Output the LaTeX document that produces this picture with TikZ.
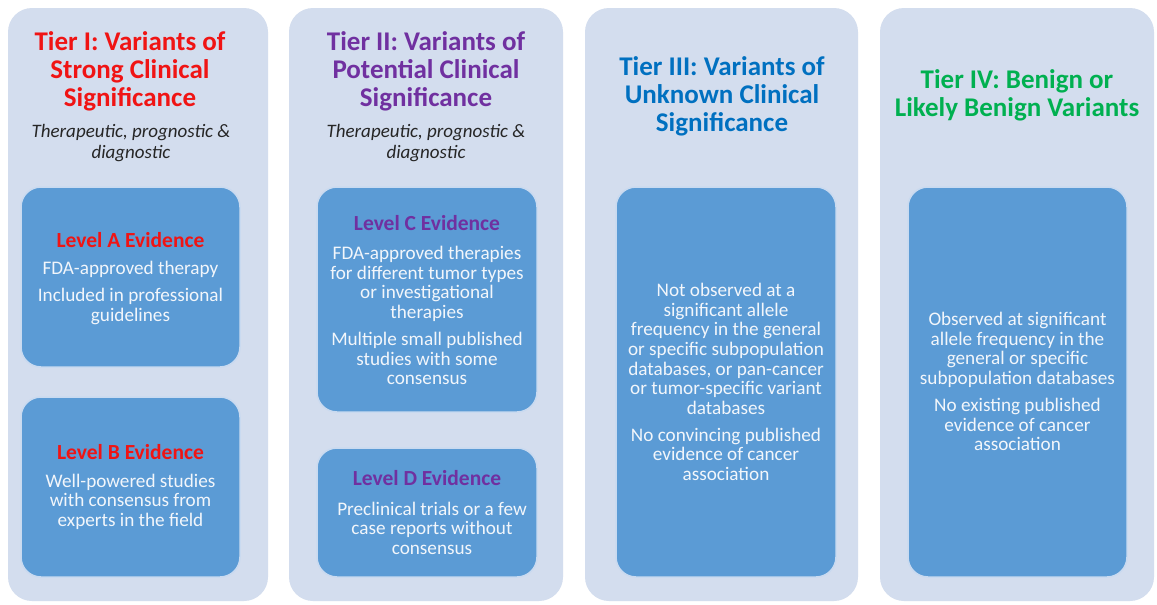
\documentclass[tikz,border=0pt]{standalone}
\usepackage{fontspec}
\setmainfont{Carlito}
\definecolor{panelfill}{HTML}{D3DDEE}
\definecolor{boxfill}{HTML}{5B9BD5}
\definecolor{boxline}{HTML}{C9DAF0}
\definecolor{tierred}{HTML}{F01414}
\definecolor{tierpurple}{HTML}{7030A0}
\definecolor{tierblue}{HTML}{0070C0}
\definecolor{tiergreen}{HTML}{00B050}
\definecolor{subgrey}{HTML}{262626}
\definecolor{boxtext}{HTML}{F2F6FB}
\tikzset{
  panel/.style={rectangle, rounded corners=24pt, fill=panelfill, inner sep=0pt},
  evbox/.style={rectangle, rounded corners=20pt, fill=boxfill, draw=boxline, line width=1.5pt, inner sep=0pt},
  tiertitle/.style={align=center, inner sep=0pt, font=\fontsize{27}{28}\selectfont\bfseries},
  subtitle/.style={align=center, inner sep=0pt, text=subgrey, font=\fontsize{19}{21}\selectfont\itshape},
  leveltitle/.style={align=center, inner sep=0pt, font=\fontsize{21.5}{22}\selectfont\bfseries},
  bodytext/.style={align=center, inner sep=0pt, text=boxtext, font=\fontsize{19.2}{19.6}\selectfont},
}
\newcommand{\parbreak}{\\[7.5pt]}
\begin{document}
\begin{tikzpicture}[x=1pt, y=-1pt]
\useasboundingbox (0,0) rectangle (1157,605);
\fill[white] (0,0) rectangle (1157,605);

% tier panels
\node[panel, minimum width=260pt, minimum height=593pt] (p1) at (138,304.5) {};
\node[panel, minimum width=274pt, minimum height=593pt] (p2) at (426,304.5) {};
\node[panel, minimum width=273pt, minimum height=593pt] (p3) at (721.5,304.5) {};
\node[panel, minimum width=274pt, minimum height=593pt] (p4) at (1017,304.5) {};

% evidence boxes
\node[evbox, minimum width=219pt, minimum height=180pt] (ba) at (130.5,277) {};
\node[evbox, minimum width=219pt, minimum height=180pt] (bb) at (130.5,487) {};
\node[evbox, minimum width=220pt, minimum height=225pt] (bc) at (427,299.5) {};
\node[evbox, minimum width=220pt, minimum height=129pt] (bd) at (427,512.5) {};
\node[evbox, minimum width=220pt, minimum height=390pt] (b3) at (726,382) {};
\node[evbox, minimum width=219pt, minimum height=390pt] (b4) at (1017.5,382) {};

% Tier I
\node[tiertitle, text=tierred] (t1) at (130,71) {Tier I: Variants of\\Strong Clinical\\Significance};
\node[subtitle] (s1) at (131,143.5) {Therapeutic, prognostic \&\\diagnostic};
\node[leveltitle, text=tierred] (la) at (130.5,240) {Level A Evidence};
\node[bodytext] (ta) at (130.5,293) {FDA-approved therapy\parbreak Included in professional\\guidelines};
\node[leveltitle, text=tierred] (lb) at (130.5,452) {Level B Evidence};
\node[bodytext] (tb) at (130.5,501.5) {Well-powered studies\\with consensus from\\experts in the field};

% Tier II
\node[tiertitle, text=tierpurple] (t2) at (426,71) {Tier II: Variants of\\Potential Clinical\\Significance};
\node[subtitle] (s2) at (426,143.5) {Therapeutic, prognostic \&\\diagnostic};
\node[leveltitle, text=tierpurple] (lc) at (427,223) {Level C Evidence};
\node[bodytext] (tc) at (427,315.5) {FDA-approved therapies\\for different tumor types\\or investigational\\therapies\parbreak Multiple small published\\studies with some\\consensus};
\node[leveltitle, text=tierpurple] (ld) at (427,478) {Level D Evidence};
\node[bodytext] (td) at (432,528) {Preclinical trials or a few\\case reports without\\consensus};

% Tier III
\node[tiertitle, text=tierblue] (t3) at (722,96) {Tier III: Variants of\\Unknown Clinical\\Significance};
\node[bodytext] (tx3) at (726,382) {Not observed at a\\significant allele\\frequency in the general\\or specific subpopulation\\databases, or pan-cancer\\or tumor-specific variant\\databases\parbreak No convincing published\\evidence of cancer\\association};

% Tier IV
\node[tiertitle, text=tiergreen] (t4) at (1017,95.5) {Tier IV: Benign or\\Likely Benign Variants};
\node[bodytext] (tx4) at (1017.5,381.5) {Observed at significant\\allele frequency in the\\general or specific\\subpopulation databases\parbreak No existing published\\evidence of cancer\\association};
\end{tikzpicture}
\end{document}
